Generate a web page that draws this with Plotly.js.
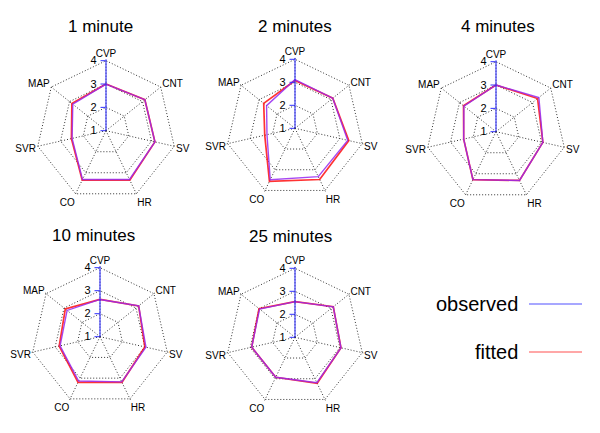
<!DOCTYPE html>
<html>
<head>
<meta charset="utf-8">
<script src="https://cdn.plot.ly/plotly-3.0.1.min.js"></script>
<style>
html,body{margin:0;padding:0;background:#fff;}
#chart{width:600px;height:433px;}
</style>
</head>
<body>
<div id="chart"></div>
<script>
// ---- data ----
var categories = ['CVP', 'CNT', 'SV', 'HR', 'CO', 'SVR', 'MAP'];
var panelTitles = ['1 minute', '2 minutes', '4 minutes', '10 minutes', '25 minutes'];
var observed1  = [3.00, 3.13, 3.15, 3.32, 3.32, 2.49, 2.82];
var fitted1    = [3.00, 3.13, 3.15, 3.35, 3.35, 2.52, 2.87];
var observed2  = [3.12, 3.10, 3.35, 3.33, 3.48, 2.25, 2.58];
var fitted2    = [3.08, 3.10, 3.40, 3.47, 3.56, 2.35, 2.74];
var observed4  = [3.00, 3.35, 3.06, 3.32, 3.28, 2.42, 2.76];
var fitted4    = [3.00, 3.28, 3.06, 3.32, 3.28, 2.42, 2.78];
var observed10 = [2.62, 3.15, 3.05, 3.18, 3.14, 2.78, 2.83];
var fitted10   = [2.62, 3.15, 3.00, 3.20, 3.20, 2.82, 2.93];
var observed25 = [2.55, 3.13, 3.05, 3.19, 2.93, 2.93, 2.97];
var fitted25   = [2.55, 3.13, 3.05, 3.22, 2.93, 2.93, 3.00];
var radialTicks = [1, 2, 3, 4];
var legendLabels = ['observed', 'fitted'];

var observedSets = [observed1, observed2, observed4, observed10, observed25];
var fittedSets = [fitted1, fitted2, fitted4, fitted10, fitted25];

// ---- layout geometry (pixels: centre x, centre y from top, radius of the "4" ring) ----
var W = 600, H = 433;
var RMIN = 1, RMAX = 4.06, RING = 4;
var panels = [
  {cx: 106, cy: 130.7, r: 70, tx: 100, ty: 26},
  {cx: 295, cy: 128.3, r: 69, tx: 295, ty: 26},
  {cx: 496, cy: 131.7, r: 70, tx: 498, ty: 26},
  {cx: 100, cy: 336.7, r: 69, tx: 93, ty: 235},
  {cx: 295, cy: 337.3, r: 69, tx: 290, ty: 236}
];

var FIT_COLOR = 'rgba(255,0,0,0.8)';
var OBS_COLOR = 'rgba(150,40,240,0.85)';
var LEG_OBS = '#8a8aff';
var LEG_FIT = '#ff8a8a';

function closeLoop(a) { return a.concat([a[0]]); }

var data = [];
var layout = {
  width: W, height: H,
  margin: {l: 0, r: 0, t: 0, b: 0},
  paper_bgcolor: '#fff',
  showlegend: false,
  font: {family: 'Liberation Sans, Arial, sans-serif', color: '#000'},
  annotations: [],
  shapes: []
};

panels.forEach(function(p, i) {
  var key = i === 0 ? 'polar' : 'polar' + (i + 1);
  var R = p.r * (RMAX - RMIN) / (RING - RMIN);
  data.push({
    type: 'scatterpolar', subplot: key, mode: 'lines',
    theta: closeLoop(categories), r: closeLoop(fittedSets[i]),
    line: {color: FIT_COLOR, width: 1.7}, hoverinfo: 'skip'
  });
  data.push({
    type: 'scatterpolar', subplot: key, mode: 'lines',
    theta: closeLoop(categories), r: closeLoop(observedSets[i]),
    line: {color: OBS_COLOR, width: 1.4}, hoverinfo: 'skip'
  });
  layout[key] = {
    domain: {
      x: [(p.cx - R) / W, (p.cx + R) / W],
      y: [(H - p.cy - R) / H, (H - p.cy + R) / H]
    },
    bgcolor: 'rgba(0,0,0,0)',
    gridshape: 'linear',
    radialaxis: {
      range: [RMIN, RMAX],
      angle: 90,
      side: 'counterclockwise',
      tickmode: 'array',
      tickvals: radialTicks,
      ticktext: radialTicks.map(String),
      ticks: 'outside', ticklen: 5, tickcolor: '#3030ff', tickwidth: 1,
      tickangle: 90,
      showline: true, linecolor: '#2020ff', linewidth: 1,
      showgrid: true, gridcolor: '#333', griddash: '1px,2px', gridwidth: 1,
      tickfont: {size: 11, color: '#000'}
    },
    angularaxis: {
      type: 'category',
      categoryorder: 'array', categoryarray: categories,
      direction: 'clockwise', rotation: 90,
      showline: false, ticks: '', ticklen: 0,
      showgrid: true, gridcolor: '#333', griddash: '1px,2px', gridwidth: 1,
      tickfont: {size: 10, color: '#000'}
    }
  };
  layout.annotations.push({
    xref: 'paper', yref: 'paper', x: p.tx / W, y: 1 - p.ty / H,
    xanchor: 'center', yanchor: 'middle', showarrow: false,
    text: panelTitles[i], font: {size: 17, color: '#000'}
  });
});

// legend (text left of line)
var legendRows = [
  {y: 304, color: LEG_OBS},
  {y: 352, color: LEG_FIT}
];
legendRows.forEach(function(row, k) {
  layout.annotations.push({
    xref: 'paper', yref: 'paper', x: 520 / W, y: 1 - row.y / H,
    xanchor: 'right', yanchor: 'middle', showarrow: false,
    text: legendLabels[k], font: {size: 20, color: '#000'}
  });
  layout.shapes.push({
    type: 'line', xref: 'paper', yref: 'paper',
    x0: 529 / W, x1: 582 / W, y0: 1 - row.y / H, y1: 1 - row.y / H,
    line: {color: row.color, width: 1.5}
  });
});

Plotly.newPlot('chart', data, layout, {displayModeBar: false, staticPlot: true});
</script>
</body>
</html>
